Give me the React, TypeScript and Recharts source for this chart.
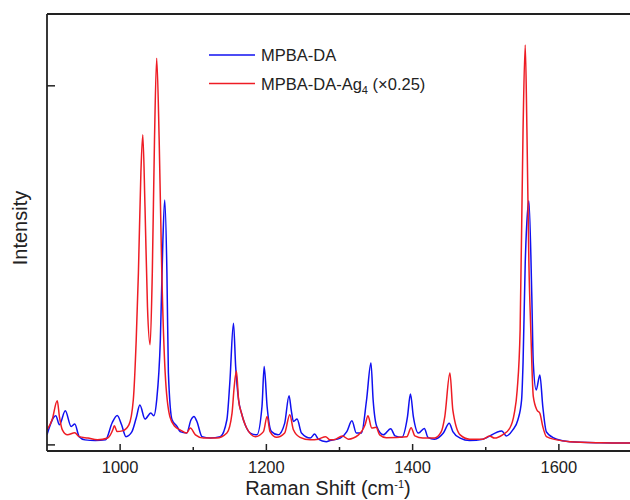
import React from "react"
import { LineChart, Line, XAxis, YAxis, ReferenceLine } from "recharts"

// Raman shift (cm-1), intensity (a.u., 1000 = upper y tick)
const mpbaDa: [number, number][] = [
  [900, 28], [912, 81], [917, 56], [925, 95], [933, 51], [938, 58], [944, 23],
  [952, 14], [966, 12], [980, 14], [989, 61], [996, 82], [1002, 56], [1008, 23],
  [1016, 36], [1022, 75], [1027, 111], [1034, 72], [1042, 89], [1046, 81],
  [1050, 125], [1055, 292], [1058.5, 571], [1061, 682], [1064, 479], [1066, 201],
  [1071, 70], [1078, 51], [1082, 37], [1091, 33], [1097, 70], [1101, 79],
  [1105, 65], [1112, 23], [1123, 19], [1137, 23], [1146, 70], [1150, 173],
  [1155, 339], [1158, 218], [1162, 125], [1166, 88], [1171, 56], [1178, 33],
  [1187, 28], [1194, 107], [1197, 218], [1201, 107], [1207, 37], [1216, 28],
  [1225, 60], [1231, 137], [1234, 97], [1237, 65], [1242, 72], [1248, 33],
  [1260, 19], [1266, 30], [1271, 16], [1282, 9], [1287, 12], [1301, 19],
  [1310, 37], [1317, 67], [1323, 33], [1330, 33], [1337, 125], [1343, 228],
  [1346, 125], [1351, 51], [1360, 28], [1370, 45], [1376, 25], [1385, 21],
  [1393, 79], [1397, 142], [1401, 79], [1408, 33], [1416, 46], [1421, 21],
  [1430, 16], [1442, 33], [1450, 60], [1455, 37], [1465, 19], [1478, 12],
  [1496, 16], [1522, 39], [1528, 25], [1537, 42], [1544, 70], [1549, 125],
  [1551, 228], [1554, 507], [1557, 646], [1559, 680], [1563, 413], [1565, 228],
  [1569, 153], [1574, 195], [1578, 107], [1583, 36], [1597, 16], [1615, 9],
  [1656, 6], [1700, 5],
]

const mpbaDaAg4: [number, number][] = [
  [900, 42], [907, 70], [914, 123], [917, 79], [921, 42], [928, 28], [938, 34],
  [944, 23], [956, 19], [969, 14], [983, 19], [990, 42], [992, 53], [996, 37],
  [1003, 39], [1012, 56], [1018, 125], [1022, 292], [1025, 479], [1028.4, 758],
  [1031, 864], [1034, 664], [1037.4, 385], [1041, 279], [1044, 479], [1047, 850],
  [1050, 1077], [1053.4, 850], [1057, 479], [1061.6, 201], [1068, 79], [1075, 51],
  [1082, 42], [1091, 33], [1096, 47], [1103, 28], [1114, 19], [1132, 19],
  [1146, 33], [1153, 88], [1156, 162], [1159, 206], [1162, 125], [1166, 88],
  [1173, 47], [1185, 23], [1196, 37], [1201, 79], [1205, 37], [1214, 21],
  [1225, 33], [1232, 84], [1237, 42], [1246, 21], [1260, 14], [1271, 16],
  [1281, 23], [1287, 14], [1292, 14], [1304, 25], [1312, 16], [1326, 28],
  [1335, 56], [1339, 81], [1344, 47], [1350, 49], [1355, 28], [1364, 20],
  [1392, 23], [1398, 48], [1403, 25], [1414, 19], [1430, 19], [1439, 36],
  [1444, 79], [1451, 200], [1455, 97], [1465, 28], [1478, 16], [1496, 16],
  [1505, 25], [1512, 19], [1523, 28], [1533, 47], [1539, 88], [1543, 153],
  [1547, 320], [1551, 877], [1554, 1114], [1556.3, 877], [1559, 507],
  [1561.6, 320], [1565, 135], [1570, 97], [1574, 88], [1578, 51], [1583, 23],
  [1597, 14], [1615, 9], [1656, 6], [1700, 5],
]

const xTicks = [1000, 1100, 1200, 1300, 1400, 1500, 1600]
const yTicks = [0, 1000]

const FONT = "'Liberation Sans', Arial, sans-serif"
const INK = "#222"
const BLUE = "#1010f0"
const RED = "#ee1c24"

const toPoints = (rows: [number, number][]) => rows.map(([x, y]) => ({ x, y }))

function ShiftTick({ x, y, payload }: any) {
  const major = payload.value % 200 === 0
  return (
    <g>
      <line x1={x} x2={x} y1={y} y2={y - (major ? 7 : 4)} stroke={INK} strokeWidth={1.5} />
      {major && (
        <text x={x} y={y + 22} textAnchor="middle" fontSize={16.5} fontFamily={FONT} fill={INK}>
          {payload.value}
        </text>
      )}
    </g>
  )
}

function IntensityTick({ x, y }: any) {
  return <line x1={x} x2={x + 8} y1={y} y2={y} stroke={INK} strokeWidth={1.5} />
}

export default function App() {
  return (
    <div style={{ position: "absolute", left: 0, top: 0, width: 630, height: 500, overflow: "hidden", background: "#fff" }}>
      <LineChart width={640} height={500} margin={{ top: 14, right: 8, bottom: 0, left: 0 }}>
        <XAxis
          dataKey="x"
          type="number"
          domain={[900, 1700]}
          ticks={xTicks}
          allowDataOverflow
          height={49}
          tickSize={0}
          tickMargin={0}
          tickLine={false}
          tick={<ShiftTick />}
          axisLine={{ stroke: INK, strokeWidth: 1.8 }}
        />
        <YAxis
          type="number"
          domain={[-17, 1200]}
          ticks={yTicks}
          allowDataOverflow
          width={47}
          tickSize={0}
          tickMargin={0}
          tickLine={false}
          tick={<IntensityTick />}
          axisLine={{ stroke: INK, strokeWidth: 1.8 }}
        />
        <ReferenceLine y={1200} stroke={INK} strokeWidth={1.8} />
        <Line
          data={toPoints(mpbaDa)}
          dataKey="y"
          type="monotone"
          stroke={BLUE}
          strokeWidth={1.5}
          dot={false}
          isAnimationActive={false}
        />
        <Line
          data={toPoints(mpbaDaAg4)}
          dataKey="y"
          type="monotone"
          stroke={RED}
          strokeWidth={1.5}
          dot={false}
          isAnimationActive={false}
        />
      </LineChart>
      <svg
        width={630}
        height={500}
        style={{ position: "absolute", left: 0, top: 0, pointerEvents: "none" }}
        fontFamily={FONT}
      >
        <line x1={209} x2={255} y1={55} y2={55} stroke={BLUE} strokeWidth={1.5} />
        <text x={261} y={61} fontSize={16.5} fill={INK}>MPBA-DA</text>
        <line x1={209} x2={255} y1={83.5} y2={83.5} stroke={RED} strokeWidth={1.5} />
        <text x={261} y={89.5} fontSize={16.5} fill={INK}>
          MPBA-DA-Ag<tspan fontSize={11} dy={4}>4</tspan>
          <tspan dy={-4}> (×0.25)</tspan>
        </text>
        <text x={328} y={495} fontSize={20} fill={INK} textAnchor="middle">
          Raman Shift (cm<tspan fontSize={11} dy={-7}>-1</tspan>
          <tspan dy={7}>)</tspan>
        </text>
        <text
          x={27}
          y={228}
          fontSize={20}
          fill={INK}
          textAnchor="middle"
          transform="rotate(-90 27 228)"
        >
          Intensity
        </text>
      </svg>
    </div>
  )
}
